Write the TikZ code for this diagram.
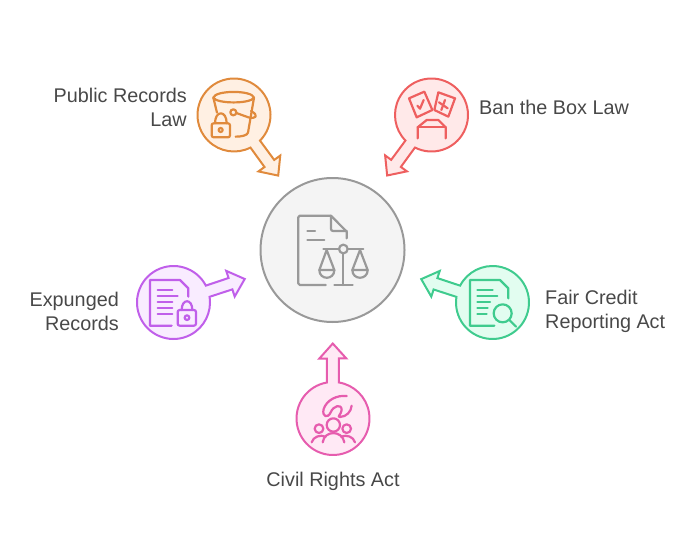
\documentclass[tikz,border=0pt]{standalone}
\usepackage{fontspec}
\setmainfont{Liberation Sans}
\usepackage{tikz}

\definecolor{hubline}{HTML}{999999}
\definecolor{hubfill}{HTML}{F4F4F4}
\definecolor{publine}{HTML}{E08A3C}
\definecolor{pubfill}{HTML}{FFF0E3}
\definecolor{banline}{HTML}{EE5F5F}
\definecolor{banfill}{HTML}{FFE9E9}
\definecolor{expline}{HTML}{C05FEA}
\definecolor{expfill}{HTML}{F9ECFF}
\definecolor{fairline}{HTML}{3FCB8E}
\definecolor{fairfill}{HTML}{E2FDF0}
\definecolor{civline}{HTML}{E65CAE}
\definecolor{civfill}{HTML}{FFE9F5}
\definecolor{labeltext}{HTML}{484848}

\tikzset{
    bubble/.style={circle, inner sep=0pt, minimum size=74pt},
    spokeline/.style={line width=2pt, draw=#1line, fill=#1fill},
    icon/.style={line width=2.2pt, draw=#1line, line cap=round, line join=round},
    lbl/.style={text=labeltext, font=\fontsize{19.8}{24}\selectfont, inner sep=0pt}
}

% Bubble outline and its arrow are one closed path, aimed at the hub
\newcommand{\spoke}[2]{%
    \pgfmathanglebetweenpoints{\pgfpointanchor{#1}{center}}{\pgfpointanchor{hub}{center}}
    \let\spokeangle\pgfmathresult
    \begin{scope}[shift={(#1.center)}, rotate=\spokeangle, x=1pt, y=1pt]
        \draw[spokeline=#2] (9.33:36.5) arc[start angle=9.33, end angle=350.67, radius=36.5]
            -- (60, -6) -- (60, -13.5) -- (75, 0) -- (60, 13.5) -- (60, 6) -- cycle;
    \end{scope}
}

\begin{document}
\begin{tikzpicture}[x=1pt, y=-1pt]
    \useasboundingbox (0, 0) rectangle (700, 540);

    % The hub
    \node[circle, inner sep=0pt, minimum size=144pt, draw=hubline, fill=hubfill, line width=2pt]
        (hub) at (332.5, 250) {};

    % The five bubbles with their arrows
    \node[bubble] (pubrec) at (234, 115) {};
    \node[bubble] (banbox) at (431.5, 115) {};
    \node[bubble] (expunged) at (173.5, 302.5) {};
    \node[bubble] (faircredit) at (492.5, 302.5) {};
    \node[bubble] (civil) at (333, 418.5) {};

    \spoke{pubrec}{pub}
    \spoke{banbox}{ban}
    \spoke{expunged}{exp}
    \spoke{faircredit}{fair}
    \spoke{civil}{civ}

    % Labels
    \node[lbl, align=right, anchor=east] (publabel) at (187, 107) {Public Records\\Law};
    \node[lbl, anchor=west] (banlabel) at (479, 107) {Ban the Box Law};
    \node[lbl, align=right, anchor=east] (explabel) at (119, 311) {Expunged\\Records};
    \node[lbl, align=left, anchor=west] (fairlabel) at (545, 311.5) {Fair Credit\\Reporting Act};
    \node[lbl] (civlabel) at (333, 481) {Civil Rights Act};

    % Hub icon: document and scales
    \begin{scope}[shift={(255, 175)}, scale=1/3, icon/.append style={draw=hubline}]
        \draw[icon=hub, rounded corners=1.5pt] (212, 330) -- (130, 330) -- (130, 122) -- (228, 122);
        \draw[icon=hub] (228, 122) -- (275, 170) -- (275, 190);
        \draw[icon=hub, rounded corners=2pt] (228, 124) -- (228, 168) -- (275, 168);
        \draw[icon=hub] (157, 169) -- (180, 169);
        \draw[icon=hub] (157, 196) -- (208, 196);
        \draw[icon=hub] (205, 222) -- (252, 222);
        \draw[icon=hub] (278, 222) -- (325, 222);
        \draw[icon=hub] (265, 222) circle (13);
        \draw[icon=hub] (265, 235) -- (265, 330);
        \draw[icon=hub] (238, 330) -- (293, 330);
        \draw[icon=hub] (193, 285) -- (215, 225) -- (238, 285) -- cycle;
        \draw[icon=hub] (193, 285) .. controls (193, 316) and (238, 316) .. (238, 285);
        \draw[icon=hub] (292, 285) -- (315, 225) -- (338, 285) -- cycle;
        \draw[icon=hub] (292, 285) .. controls (292, 316) and (338, 316) .. (338, 285);
    \end{scope}

    % Bucket and lock
    \begin{scope}[shift={(180, 60)}, scale=1/3]
        \draw[icon=pub] (100, 113) .. controls (105, 90) and (217, 90) .. (222, 113);
        \draw[icon=pub] (100, 113) .. controls (110, 132) and (212, 132) .. (222, 113);
        \draw[icon=pub] (100, 113) -- (111, 158);
        \draw[icon=pub] (222, 113) -- (204, 218) .. controls (202, 226) and (185, 230) .. (167, 230);
        \draw[icon=pub] (160, 157) circle (9);
        \draw[icon=pub] (169, 159) -- (205, 172) .. controls (225, 178) and (240, 168) .. (213, 153);
        \draw[icon=pub, rounded corners=2pt] (95, 190) rectangle (150, 232);
        \draw[icon=pub] (105, 190) .. controls (105, 150) and (140, 150) .. (140, 190);
        \draw[icon=pub] (122, 210) circle (6);
    \end{scope}

    % Two cards and a box
    \begin{scope}[shift={(375, 65)}, scale=1/3]
        \draw[icon=ban] (102, 100) -- (148, 80) -- (172, 135) -- (125, 157) -- cycle;
        \draw[icon=ban] (127, 122) -- (135, 131) -- (146, 105);
        \draw[icon=ban] (190, 82) -- (240, 100) -- (220, 155) -- (178, 135) -- cycle;
        \draw[icon=ban] (192, 112) -- (218, 130);
        \draw[icon=ban] (210, 105) -- (199, 135);
        \draw[icon=ban] (128, 220) -- (128, 187) -- (155, 165) -- (190, 165) -- (212, 187) -- (212, 220);
        \draw[icon=ban] (128, 187) -- (212, 187);
    \end{scope}

    % Document and lock
    \begin{scope}[shift={(125, 255)}, scale=1/3]
        \draw[icon=exp] (140, 212) -- (75, 212) -- (75, 75) -- (165, 75) -- (190, 100) -- (190, 125);
        \draw[icon=exp] (98, 104) -- (142, 104);
        \draw[icon=exp] (98, 122) -- (158, 122);
        \draw[icon=exp] (98, 140) -- (142, 140);
        \draw[icon=exp] (98, 158) -- (142, 158);
        \draw[icon=exp] (98, 176) -- (142, 176);
        \draw[icon=exp, rounded corners=2pt] (158, 165) rectangle (213, 212);
        \draw[icon=exp] (170, 165) .. controls (170, 130) and (202, 130) .. (202, 165);
        \draw[icon=exp] (186, 188) circle (7);
    \end{scope}

    % Document and magnifier
    \begin{scope}[shift={(415, 255)}, scale=1/3]
        \draw[icon=fair] (238, 212) -- (165, 212) -- (165, 75) -- (255, 75) -- (280, 100) -- (280, 130);
        \draw[icon=fair] (187, 104) -- (233, 104);
        \draw[icon=fair] (187, 122) -- (247, 122);
        \draw[icon=fair] (187, 140) -- (225, 140);
        \draw[icon=fair] (187, 158) -- (218, 158);
        \draw[icon=fair] (187, 176) -- (215, 176);
        \draw[icon=fair] (263, 175) circle (27);
        \draw[icon=fair] (283, 195) -- (303, 215);
    \end{scope}

    % Squiggle and three people
    \begin{scope}[shift={(285, 335)}, scale=1/3]
        \draw[icon=civ] (185, 183) .. controls (155, 180) and (125, 195) .. (116, 222)
            .. controls (110, 245) and (128, 252) .. (137, 232)
            .. controls (145, 212) and (170, 205) .. (170, 225)
            .. controls (168, 240) and (155, 245) .. (165, 246)
            .. controls (185, 245) and (198, 230) .. (200, 212);
        \draw[icon=civ] (145, 270) circle (20);
        \draw[icon=civ] (102, 281) circle (13);
        \draw[icon=civ] (185, 281) circle (13);
        \draw[icon=civ] (113, 322) .. controls (118, 285) and (172, 285) .. (178, 322);
        \draw[icon=civ] (80, 322) .. controls (85, 305) and (105, 298) .. (122, 305);
        \draw[icon=civ] (168, 305) .. controls (185, 298) and (205, 305) .. (210, 322);
    \end{scope}
\end{tikzpicture}
\end{document}
